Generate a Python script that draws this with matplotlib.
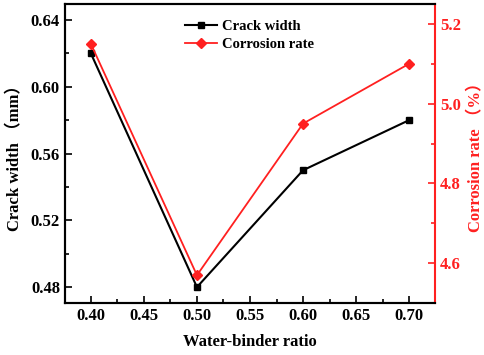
import matplotlib
matplotlib.use("Agg")
import matplotlib.pyplot as plt
from matplotlib.ticker import MultipleLocator

ratios = [0.40, 0.50, 0.60, 0.70]
crack_width = [0.62, 0.48, 0.55, 0.58]
corrosion_rate = [5.15, 4.57, 4.95, 5.10]

RED = "#ff2020"
fam = ["Liberation Serif", "Noto Sans CJK SC"]
plt.rcParams["font.family"] = fam
plt.rcParams["font.weight"] = "bold"

fig = plt.figure(figsize=(4.84, 3.55), dpi=100)
ax = fig.add_axes([0.134, 0.146, 0.765, 0.843])
ax2 = ax.twinx()

l1, = ax.plot(ratios, crack_width, color="black", lw=1.5, marker="s", ms=5, label="Crack width")
l2, = ax2.plot(ratios, corrosion_rate, color=RED, lw=1.3, marker="D", ms=5, label="Corrosion rate")

ax.set_xlim(0.3755, 0.7245)
ax.set_ylim(0.4704, 0.6496)
ax2.set_ylim(4.5, 5.25)

ax.xaxis.set_major_locator(MultipleLocator(0.05))
ax.xaxis.set_minor_locator(MultipleLocator(0.025))
ax.yaxis.set_major_locator(MultipleLocator(0.04))
ax.yaxis.set_minor_locator(MultipleLocator(0.02))
ax2.yaxis.set_major_locator(MultipleLocator(0.2))
ax2.yaxis.set_minor_locator(MultipleLocator(0.1))
ax.xaxis.set_major_formatter(plt.FormatStrFormatter("%.2f"))
ax.yaxis.set_major_formatter(plt.FormatStrFormatter("%.2f"))
ax2.yaxis.set_major_formatter(plt.FormatStrFormatter("%.1f"))

ax.tick_params(axis="both", which="both", direction="in", top=False, right=False, labelsize=12, width=1.2)
ax.tick_params(which="major", length=5)
ax.tick_params(which="minor", length=3)
ax2.tick_params(axis="y", which="both", direction="in", colors=RED, labelsize=12, width=1.2)
ax2.tick_params(which="major", length=5)
ax2.tick_params(which="minor", length=3)

for s in ["left", "bottom", "top"]:
    ax.spines[s].set_linewidth(1.5)
    ax2.spines[s].set_linewidth(1.5)
ax2.spines["right"].set_color(RED)
ax2.spines["right"].set_linewidth(1.5)
ax.spines["right"].set_visible(False)

ax.set_xlabel("Water-binder ratio", fontsize=12, fontweight="bold", labelpad=7)
ax.set_ylabel("Crack width （mm）", fontsize=12, fontweight="bold", labelpad=5)
ax2.set_ylabel("Corrosion rate （%）", fontsize=12, fontweight="bold", color=RED, labelpad=5)

leg = ax.legend(handles=[l1, l2], loc="upper left", bbox_to_anchor=(0.29, 0.99), frameon=False,
                handlelength=2.2, handletextpad=0.3, labelspacing=0.3,
                prop={"family": fam, "weight": "bold", "size": 10.5})

fig.canvas.draw()
for lab in ax.get_xticklabels() + ax.get_yticklabels() + ax2.get_yticklabels():
    lab.set_fontweight("bold")
    lab.set_fontfamily("Liberation Serif")

fig.savefig("out.png", dpi=100)
